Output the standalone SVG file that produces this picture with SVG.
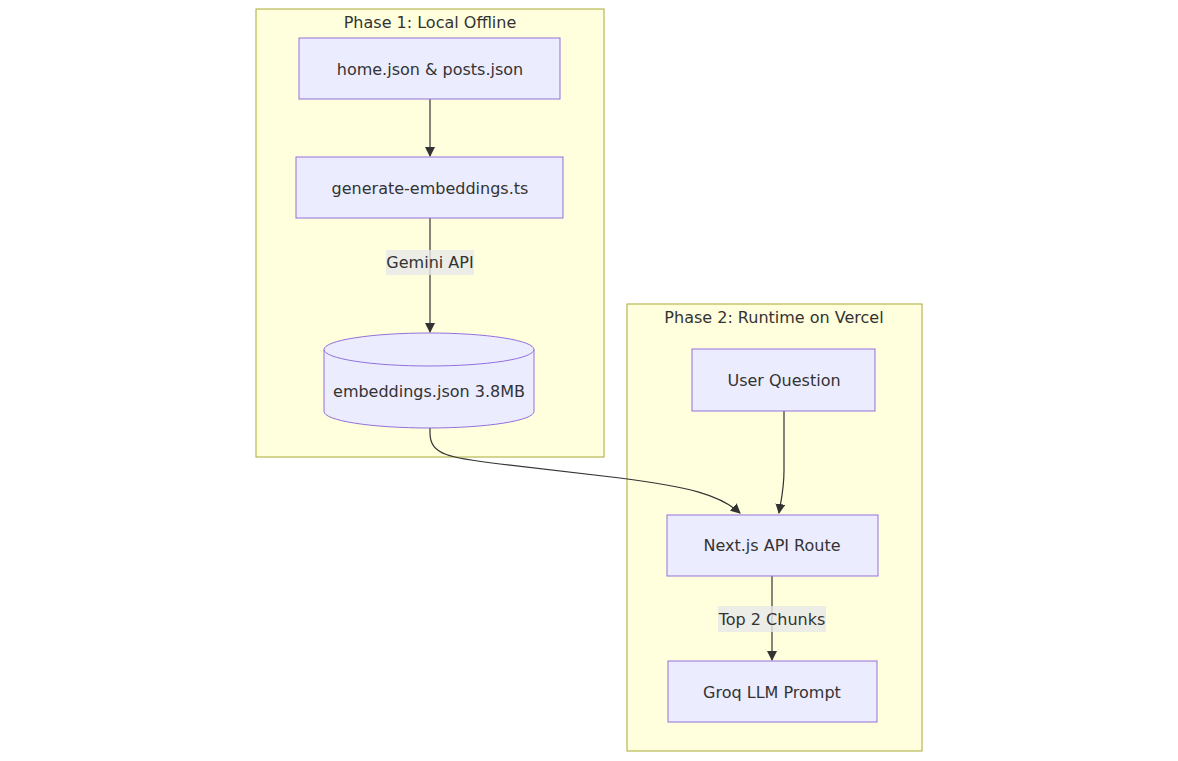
<svg xmlns="http://www.w3.org/2000/svg" width="1178" height="761" viewBox="0 0 1178 761">
<defs>
<style>
.cluster{fill:#ffffde;stroke:#aaaa33;stroke-width:1}
.node{fill:#ececff;stroke:#9370db;stroke-width:1}
.t{font-family:"DejaVu Sans",Verdana,sans-serif;font-size:16px;fill:#333;text-anchor:middle;dominant-baseline:central}
.edge{fill:none;stroke:#333;stroke-width:1.2}
.lbl{fill:#e8e8e8;opacity:0.8}
</style>
<marker id="arr" viewBox="0 0 10 10" refX="9" refY="5" markerWidth="10" markerHeight="10" markerUnits="userSpaceOnUse" orient="auto">
<path d="M0,0 L10,5 L0,10 z" fill="#333"/>
</marker>
</defs>
<rect width="1178" height="761" fill="#ffffff"/>
<g id="cluster1">
<rect class="cluster" x="256" y="9" width="348" height="448"/>
<text class="t" x="430" y="22">Phase 1: Local Offline</text>
</g>
<g id="cluster2">
<rect class="cluster" x="627" y="304" width="295" height="447"/>
<text class="t" x="774" y="317">Phase 2: Runtime on Vercel</text>
</g>
<g id="connectors">
<path class="edge" d="M430,99 L430,156" marker-end="url(#arr)"/>
<path class="edge" d="M430,218 L430,332" marker-end="url(#arr)"/>
<path class="edge" d="M430,428 L430,433 C430,455 450,458 500,464 L620,478 C690,487 720,495 740,513" marker-end="url(#arr)"/>
<path class="edge" d="M784,411 L784,470 C784,490 781,500 779,513" marker-end="url(#arr)"/>
<path class="edge" d="M772,576 L772,660" marker-end="url(#arr)"/>
<g id="label-gemini">
<rect class="lbl" x="386" y="250" width="88" height="25"/>
<text class="t" x="430" y="262">Gemini API</text>
</g>
<g id="label-top2">
<rect class="lbl" x="718" y="606" width="108" height="26"/>
<text class="t" x="772" y="619">Top 2 Chunks</text>
</g>
</g>
<g id="node-home">
<rect class="node" x="299" y="38" width="261" height="61"/>
<text class="t" x="430" y="69">home.json &amp; posts.json</text>
</g>
<g id="node-generate">
<rect class="node" x="296" y="157" width="267" height="61"/>
<text class="t" x="430" y="188">generate-embeddings.ts</text>
</g>
<g id="node-embeddings">
<path class="node" d="M324,349.5 A105,16.5 0 0 1 534,349.5 L534,411.5 A105,16.5 0 0 1 324,411.5 Z"/>
<path class="node" style="fill:none" d="M324,349.5 A105,16.5 0 0 0 534,349.5"/>
<text class="t" x="429" y="391">embeddings.json 3.8MB</text>
</g>
<g id="node-question">
<rect class="node" x="692" y="349" width="183" height="62"/>
<text class="t" x="784" y="380">User Question</text>
</g>
<g id="node-nextjs">
<rect class="node" x="667" y="515" width="211" height="61"/>
<text class="t" x="772" y="545">Next.js API Route</text>
</g>
<g id="node-groq">
<rect class="node" x="668" y="661" width="209" height="61"/>
<text class="t" x="772" y="692">Groq LLM Prompt</text>
</g>
</svg>
